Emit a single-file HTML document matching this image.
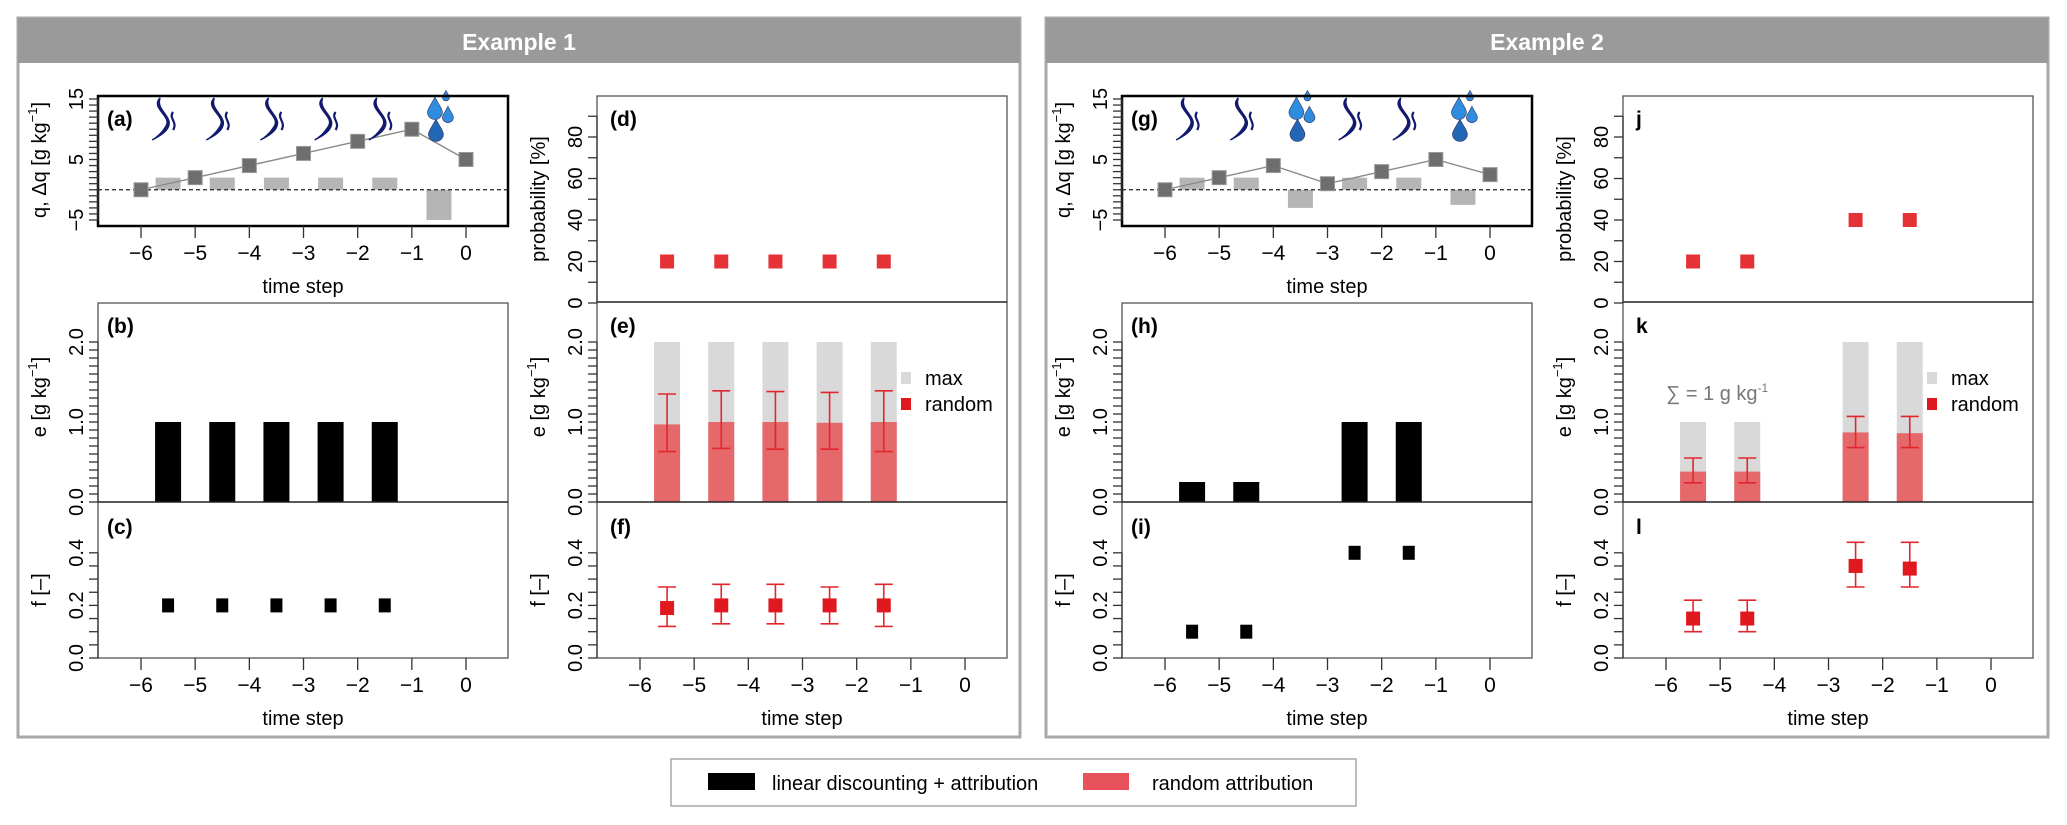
<!DOCTYPE html>
<html><head><meta charset="utf-8"><style>
html,body{margin:0;padding:0;background:#fff;}
svg{display:block;font-family:"Liberation Sans",Arial,sans-serif;}
</style></head><body>
<svg id="fig" width="2067" height="825" viewBox="0 0 2067 825" xmlns="http://www.w3.org/2000/svg">
<g>
<rect x="18" y="18" width="1002" height="719" fill="#fff" stroke="#a8a8a8" stroke-width="3"/>
<rect x="18" y="18" width="1002" height="45" fill="#9a9a9a"/>
<text x="519" y="50" text-anchor="middle" font-size="23" font-weight="bold" fill="#fff">Example 1</text>
</g>
<g>
<rect x="1046" y="18" width="1002" height="719" fill="#fff" stroke="#a8a8a8" stroke-width="3"/>
<rect x="1046" y="18" width="1002" height="45" fill="#9a9a9a"/>
<text x="1547" y="50" text-anchor="middle" font-size="23" font-weight="bold" fill="#fff">Example 2</text>
</g>
<g id="plots"></g>
<g>
<rect x="671" y="759" width="685" height="47" fill="#fff" stroke="#a8a8a8" stroke-width="1.5"/>
<rect x="708" y="773" width="47" height="17" fill="#000"/>
<text x="772" y="790" font-size="20">linear discounting + attribution</text>
<rect x="1083" y="773" width="46" height="17" fill="#e8525a"/>
<text x="1152" y="790" font-size="20">random attribution</text>
</g>
</svg>
<script>
// ---- data ----
const qSteps = [-6,-5,-4,-3,-2,-1,0];
const dqSteps = [-5.5,-4.5,-3.5,-2.5,-1.5,-0.5];
const q1 = [0,2,4,6,8,10,5];
const dq1 = [2,2,2,2,2,-5];
const icons1 = ['s','s','s','s','s','d'];
const q2 = [0,2,4,1,3,5,2.5];
const dq2 = [2,2,-3,2,2,-2.5];
const icons2 = ['s','s','d','s','s','d'];

const steps1 = [-5.5,-4.5,-3.5,-2.5,-1.5];
const eLin1 = [1,1,1,1,1];
const fLin1 = [0.2,0.2,0.2,0.2,0.2];
const prob1 = [20,20,20,20,20];
const eMax1 = [2,2,2,2,2];
const eMean1 = [0.97,1.0,1.0,0.99,1.0];
const eHi1 = [1.35,1.39,1.38,1.37,1.39];
const eLo1 = [0.63,0.67,0.66,0.66,0.63];
const fMean1 = [0.19,0.2,0.2,0.2,0.2];
const fHi1 = [0.27,0.28,0.28,0.27,0.28];
const fLo1 = [0.12,0.13,0.13,0.13,0.12];

const steps2 = [-5.5,-4.5,-2.5,-1.5];
const eLin2 = [0.25,0.25,1,1];
const fLin2 = [0.1,0.1,0.4,0.4];
const prob2 = [20,20,40,40];
const eMax2 = [1,1,2,2];
const eMean2 = [0.38,0.38,0.87,0.86];
const eHi2 = [0.55,0.55,1.07,1.07];
const eLo2 = [0.24,0.24,0.68,0.68];
const fMean2 = [0.15,0.15,0.35,0.34];
const fHi2 = [0.22,0.22,0.44,0.44];
const fLo2 = [0.1,0.1,0.27,0.27];

const xTicks = [-6,-5,-4,-3,-2,-1,0];
const xTickLabels = ['\u22126','\u22125','\u22124','\u22123','\u22122','\u22121','0'];

// ---- helpers ----
const NS='http://www.w3.org/2000/svg';
const root=document.getElementById('plots');
function mk(tag,attrs,parent,name,txt){
  const el=document.createElementNS(NS,tag);
  for(const k in attrs) el.setAttribute(k,attrs[k]);
  
  
  if(txt!==undefined) el.textContent=txt;
  (parent||root).appendChild(el);
  return el;
}
function xs(left){return t=>left+43+(t+6)*54.17;}
const W=410;
const yA=v=>220-(v+5)*6.05;
const yD=v=>303-v*2.075;
const yE=v=>502-v*80;
const yF=v=>658-v*263;

function yAxis(g,left,ticks,minor,labels,ys,title,titleY){
  minor.forEach(v=>mk('line',{x1:left-9,x2:left,y1:ys(v),y2:ys(v),stroke:'#333','stroke-width':1.3},g,'y-tick'));
  labels.forEach((l,i)=>{const y=ys(ticks[i]);
    mk('text',{x:left-21,y:y,transform:`rotate(-90 ${left-21} ${y})`,'text-anchor':'middle','font-size':20,'dominant-baseline':'central'},g,'y-tick-label',l);});
  mk('line',{x1:left,x2:left,y1:ys(minor[minor.length-1]),y2:ys(minor[0]),stroke:'#333','stroke-width':1.3},g,'y-axis-line');
  if(title){const tx=left-58;
    const t=mk('text',{x:tx,y:titleY,transform:`rotate(-90 ${tx} ${titleY})`,'text-anchor':'middle','font-size':20,'dominant-baseline':'central'},g,'y-axis-title');
    t.innerHTML=title;}
}
function xAxis(g,left,bottom){
  const X=xs(left);
  xTicks.forEach((t,i)=>{
    mk('line',{x1:X(t),x2:X(t),y1:bottom,y2:bottom+12,stroke:'#333','stroke-width':1.3},g,'x-tick');
    mk('text',{x:X(t),y:bottom+34,'text-anchor':'middle','font-size':21},g,'x-tick-label',xTickLabels[i]);
  });
  mk('text',{x:left+205,y:bottom+67,'text-anchor':'middle','font-size':20},g,'x-axis-title','time step');
}
function range(a,b,s){const r=[];for(let v=a;v<=b+1e-9;v+=s)r.push(Math.round(v*100)/100);return r;}
const unit='g kg<tspan dy="-8" font-size="13">\u22121</tspan><tspan dy="8">]</tspan>';

function steam(g,cx,cy){
  mk('path',{d:`M${cx-4} ${cy-22} C${cx-14} ${cy-12},${cx+8} ${cy-4},${cx+2} ${cy+6} C${cx-2} ${cy+13},${cx-8} ${cy+18},${cx-12} ${cy+20} C${cx-4} ${cy+16},${cx+6} ${cy+10},${cx+5} ${cy+2} C${cx+4} ${cy-6},${cx-8} ${cy-12},${cx-4} ${cy-22} Z`,fill:'#121a6e',stroke:'#121a6e','stroke-width':1.5},g,'steam-icon');
  mk('path',{d:`M${cx+9} ${cy-8} C${cx+4} ${cy-2},${cx+14} ${cy+2},${cx+9} ${cy+10}`,fill:'none',stroke:'#121a6e','stroke-width':2.2},g,'steam-icon-small');
}
function drop(g,cx,cy,s,col){
  mk('path',{d:`M${cx} ${cy-s*1.6} C${cx+s*0.5} ${cy-s*0.6},${cx+s} ${cy},${cx+s} ${cy+s*0.4} A${s} ${s} 0 0 1 ${cx-s} ${cy+s*0.4} C${cx-s} ${cy},${cx-s*0.5} ${cy-s*0.6},${cx} ${cy-s*1.6} Z`,fill:col,stroke:'#335','stroke-width':0.6},g,'drop-icon');
}
function drops(g,cx,cy){drop(g,cx-6,cy-9,7.5,'#2f8de0');drop(g,cx+5,cy-22,3.5,'#2f8de0');drop(g,cx+7,cy-3,5.5,'#2f8de0');drop(g,cx-5,cy+13,7.5,'#2266b8');}

function panelQ(left,q,dq,icons,label){
  const g=mk('g',{},root,'q-panel-'+label);
  const X=xs(left);
  mk('rect',{x:left,y:96,width:W,height:130,fill:'#fff'},g,'plot-area');
  dq.forEach((v,i)=>{const y0=yA(0),y1=yA(v);
    mk('rect',{x:X(dqSteps[i])-12.5,y:Math.min(y0,y1),width:25,height:Math.abs(y1-y0),fill:'#b5b5b5'},g,'delta-q-bar');});
  mk('line',{x1:left,x2:left+W,y1:yA(0),y2:yA(0),stroke:'#222','stroke-width':1.3,'stroke-dasharray':'4 3'},g,'zero-line');
  mk('polyline',{points:q.map((v,i)=>X(qSteps[i])+','+yA(v)).join(' '),fill:'none',stroke:'#8a8a8a','stroke-width':1.4},g,'q-line');
  q.forEach((v,i)=>mk('rect',{x:X(qSteps[i])-7,y:yA(v)-7,width:14,height:14,fill:'#6e6e6e',stroke:'#999','stroke-width':1},g,'q-point'));
  icons.forEach((c,i)=>{const cx=X(dqSteps[i]);if(c==='s')steam(g,cx-4,120);else drops(g,cx+2,118);});
  mk('rect',{x:left,y:96,width:W,height:130,fill:'none',stroke:'#000','stroke-width':2.5},g,'plot-frame');
  mk('text',{x:left+9,y:126,'font-size':21,'font-weight':'bold'},g,'panel-label','('+label+')');
  yAxis(g,left,[-5,5,15],range(-5,15,1),['\u22125','5','15'],yA,'q, \u0394q ['+unit,160);
  xAxis(g,left,226);
}
function panelLin(left,steps,e,f,lb1,lb2){
  const g=mk('g',{},root,'linear-panels-'+lb1+lb2);
  const X=xs(left);
  e.forEach((v,i)=>mk('rect',{x:X(steps[i])-13,y:yE(v),width:26,height:yE(0)-yE(v),fill:'#000'},g,'e-bar'));
  f.forEach((v,i)=>mk('rect',{x:X(steps[i])-6,y:yF(v)-7,width:12,height:14,fill:'#000'},g,'f-point'));
  mk('rect',{x:left,y:303,width:W,height:355,fill:'none',stroke:'#555','stroke-width':1.3},g,'plot-frame');
  mk('line',{x1:left,x2:left+W,y1:502,y2:502,stroke:'#222','stroke-width':1.5},g,'panel-divider');
  mk('text',{x:left+9,y:333,'font-size':21,'font-weight':'bold'},g,'panel-label','('+lb1+')');
  mk('text',{x:left+9,y:534,'font-size':21,'font-weight':'bold'},g,'panel-label','('+lb2+')');
  yAxis(g,left,[0,1,2],range(0,2,0.1),['0.0','1.0','2.0'],yE,'e ['+unit,397);
  yAxis(g,left,[0,0.2,0.4],range(0,0.4,0.05),['0.0','0.2','0.4'],yF,'f [\u2013]',590);
  xAxis(g,left,658);
}
function panelRand(left,steps,prob,emax,emean,ehi,elo,fmean,fhi,flo,labs,paren,sumText){
  const g=mk('g',{},root,'random-panels-'+labs.join(''));
  const X=xs(left);
  const red='#e3262d';
  prob.forEach((v,i)=>mk('rect',{x:X(steps[i])-7,y:yD(v)-7,width:14,height:14,fill:'#e53236'},g,'probability-point'));
  emax.forEach((v,i)=>mk('rect',{x:X(steps[i])-13,y:yE(v),width:26,height:yE(0)-yE(v),fill:'#d9d9d9'},g,'e-max-bar'));
  emean.forEach((v,i)=>mk('rect',{x:X(steps[i])-13,y:yE(v),width:26,height:yE(0)-yE(v),fill:'#e5686b'},g,'e-random-bar'));
  function err(x,hi,lo,ys,nm){
    mk('line',{x1:x,x2:x,y1:ys(hi),y2:ys(lo),stroke:red,'stroke-width':1.6},g,nm);
    mk('line',{x1:x-9,x2:x+9,y1:ys(hi),y2:ys(hi),stroke:red,'stroke-width':1.6},g,nm+'-cap');
    mk('line',{x1:x-9,x2:x+9,y1:ys(lo),y2:ys(lo),stroke:red,'stroke-width':1.6},g,nm+'-cap');
  }
  ehi.forEach((v,i)=>err(X(steps[i]),v,elo[i],yE,'e-error-bar'));
  fhi.forEach((v,i)=>err(X(steps[i]),v,flo[i],yF,'f-error-bar'));
  fmean.forEach((v,i)=>mk('rect',{x:X(steps[i])-7,y:yF(v)-7,width:14,height:14,fill:'#e0191f'},g,'f-random-point'));
  mk('rect',{x:left,y:96,width:W,height:562,fill:'none',stroke:'#555','stroke-width':1.3},g,'plot-frame');
  mk('line',{x1:left,x2:left+W,y1:302,y2:302,stroke:'#222','stroke-width':1.5},g,'panel-divider');
  mk('line',{x1:left,x2:left+W,y1:502,y2:502,stroke:'#222','stroke-width':1.5},g,'panel-divider');
  const L=l=>paren?'('+l+')':l;
  mk('text',{x:left+13,y:126,'font-size':21,'font-weight':'bold'},g,'panel-label',L(labs[0]));
  mk('text',{x:left+13,y:333,'font-size':21,'font-weight':'bold'},g,'panel-label',L(labs[1]));
  mk('text',{x:left+13,y:534,'font-size':21,'font-weight':'bold'},g,'panel-label',L(labs[2]));
  mk('rect',{x:left+304,y:372,width:10,height:12,fill:'#d9d9d9'},g,'legend-max-swatch');
  mk('text',{x:left+328,y:385,'font-size':20},g,'legend-max-label','max');
  mk('rect',{x:left+304,y:398,width:10,height:12,fill:'#e0191f'},g,'legend-random-swatch');
  mk('text',{x:left+328,y:411,'font-size':20},g,'legend-random-label','random');
  if(sumText){const t=mk('text',{x:left+43,y:400,'font-size':20,fill:'#777'},g,'sum-annotation');
    t.innerHTML='\u2211 = 1 g kg<tspan dy="-8" font-size="12">-1</tspan>';}
  yAxis(g,left,[0,20,40,60,80],range(0,90,10),['0','20','40','60','80'],yD,'probability [%]',199);
  yAxis(g,left,[0,1,2],range(0,2,0.1),['0.0','1.0','2.0'],yE,'e ['+unit,397);
  yAxis(g,left,[0,0.2,0.4],range(0,0.4,0.05),['0.0','0.2','0.4'],yF,'f [\u2013]',590);
  xAxis(g,left,658);
}
panelQ(98,q1,dq1,icons1,'a');
panelLin(98,steps1,eLin1,fLin1,'b','c');
panelRand(597,steps1,prob1,eMax1,eMean1,eHi1,eLo1,fMean1,fHi1,fLo1,['d','e','f'],true,false);
panelQ(1122,q2,dq2,icons2,'g');
panelLin(1122,steps2,eLin2,fLin2,'h','i');
panelRand(1623,steps2,prob2,eMax2,eMean2,eHi2,eLo2,fMean2,fHi2,fLo2,['j','k','l'],false,true);
</script>
</body></html>
